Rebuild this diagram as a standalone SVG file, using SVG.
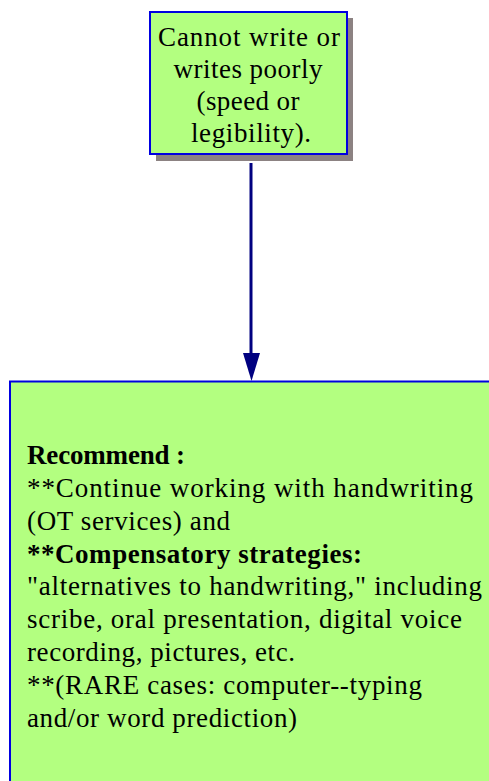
<svg xmlns="http://www.w3.org/2000/svg" width="489" height="781" viewBox="0 0 489 781">
<style>
.box{fill:#b3ff80;stroke:#0000e0;stroke-width:2}
.t{font-family:"Liberation Serif","Times New Roman",serif;font-size:27px;fill:#000}
.b{font-weight:bold}
</style>
<rect width="489" height="781" fill="#fff"/>
<g id="node1">
<rect x="156" y="18" width="197" height="143" fill="#8c8282"/>
<rect class="box" x="150" y="12" width="197" height="142"/>
<text class="t" text-anchor="middle" x="249" y="46" textLength="182" lengthAdjust="spacing">Cannot write or</text>
<text class="t" text-anchor="middle" x="248" y="78" textLength="149" lengthAdjust="spacing">writes poorly</text>
<text class="t" text-anchor="middle" x="248" y="110" textLength="103" lengthAdjust="spacing">(speed or</text>
<text class="t" text-anchor="middle" x="251" y="142" textLength="120" lengthAdjust="spacing">legibility).</text>
</g>
<g id="connectors">
<line x1="251" y1="163" x2="251" y2="355" stroke="#000080" stroke-width="3"/>
<polygon points="243,353 260,353 251.5,381" fill="#000080"/>
</g>
<g id="node2">
<rect class="box" x="10" y="381.5" width="490" height="410"/>
<text class="t b" x="27" y="464" textLength="158" lengthAdjust="spacing">Recommend :</text>
<text class="t" x="27" y="497" textLength="446" lengthAdjust="spacing">**Continue working with handwriting</text>
<text class="t" x="27" y="530" textLength="203" lengthAdjust="spacing">(OT services) and</text>
<text class="t b" x="27" y="563" textLength="335" lengthAdjust="spacing">**Compensatory strategies:</text>
<text class="t" x="27" y="595" textLength="455" lengthAdjust="spacing">"alternatives to handwriting," including</text>
<text class="t" x="27" y="628" textLength="435" lengthAdjust="spacing">scribe, oral presentation, digital voice</text>
<text class="t" x="27" y="661" textLength="268" lengthAdjust="spacing">recording, pictures, etc.</text>
<text class="t" x="27" y="694" textLength="395" lengthAdjust="spacing">**(RARE cases: computer--typing</text>
<text class="t" x="27" y="727" textLength="270" lengthAdjust="spacing">and/or word prediction)</text>
</g>
</svg>
